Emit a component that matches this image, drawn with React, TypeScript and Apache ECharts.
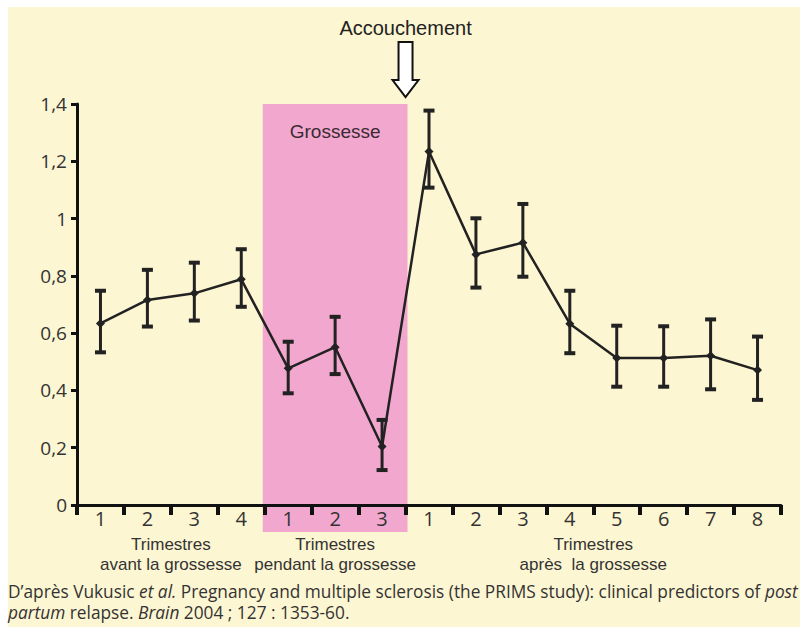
import React, { useEffect, useRef } from "react";
import * as echarts from "echarts";

const tickLabels = ["1", "2", "3", "4", "1", "2", "3", "1", "2", "3", "4", "5", "6", "7", "8"];
const means = [0.634, 0.716, 0.739, 0.788, 0.477, 0.551, 0.204, 1.234, 0.875, 0.916, 0.633, 0.513, 0.513, 0.521, 0.471];
const upper = [0.748, 0.821, 0.846, 0.893, 0.57, 0.657, 0.297, 1.377, 1.001, 1.051, 0.748, 0.626, 0.624, 0.648, 0.588];
const lower = [0.533, 0.623, 0.644, 0.692, 0.39, 0.457, 0.122, 1.108, 0.759, 0.797, 0.53, 0.413, 0.413, 0.404, 0.367];
const groupNames = ["Trimestres\navant la grossesse", "Trimestres\npendant la grossesse", "Trimestres\naprès  la grossesse"];
const groupRanges = [[0, 3], [4, 6], [7, 14]];
const pregnancyRange = [4, 6];
const yTicks = [0, 0.2, 0.4, 0.6, 0.8, 1, 1.2, 1.4];

const INK = "#222222";
const CREAM = "#FDF6D2";
const PINK = "#F2A8CE";

export default function App() {
  const ref = useRef<HTMLDivElement>(null);
  useEffect(() => {
    if (!ref.current) return;
    const chart = echarts.init(ref.current, null, { renderer: "svg" });
    const cats = tickLabels.map((_, i) => "c" + i);
    chart.setOption({
      animation: false,
      backgroundColor: "#ffffff",
      grid: { left: 77, right: 21, top: 104, bottom: 122, containLabel: false },
      xAxis: {
        type: "category",
        data: cats,
        boundaryGap: true,
        axisLine: { show: true, onZero: false, lineStyle: { color: "#111", width: 3 } },
        axisTick: { show: true, length: 10, lineStyle: { color: "#111", width: 4 } },
        axisLabel: {
          formatter: (_v: string, i: number) => tickLabels[i],
          color: "#333",
          fontFamily: "Open Sans",
          fontSize: 20,
          margin: 3,
        },
        splitLine: { show: false },
      },
      yAxis: {
        type: "value",
        min: 0,
        max: 1.4,
        interval: 0.2,
        axisLine: { show: true, lineStyle: { color: "#111", width: 3 } },
        axisTick: { show: true, length: 6, lineStyle: { color: "#111", width: 3 } },
        axisLabel: {
          formatter: (v: number) => {
            const m = yTicks.find((t) => Math.abs(t - v) < 1e-6);
            return String(m !== undefined ? m : v).replace(".", ",");
          },
          color: "#333",
          fontFamily: "Open Sans",
          fontSize: 19,
          margin: 10,
        },
        splitLine: { show: false },
      },
      series: [
        {
          type: "custom",
          z: 3,
          renderItem: (params: any, api: any) => {
            const i = api.value(0);
            const top = api.coord([i, api.value(2)]);
            const bot = api.coord([i, api.value(1)]);
            const cw = 11, ch = 4;
            return {
              type: "group",
              children: [
                { type: "line", shape: { x1: top[0], y1: top[1], x2: bot[0], y2: bot[1] }, style: { stroke: INK, lineWidth: 3 } },
                { type: "rect", shape: { x: top[0] - cw / 2, y: top[1] - ch / 2, width: cw, height: ch }, style: { fill: INK } },
                { type: "rect", shape: { x: bot[0] - cw / 2, y: bot[1] - ch / 2, width: cw, height: ch }, style: { fill: INK } },
              ],
            };
          },
          data: means.map((_, i) => [i, lower[i], upper[i]]),
          encode: { x: 0, y: [1, 2] },
        },
        {
          type: "line",
          z: 4,
          data: means,
          symbol: "diamond",
          symbolSize: 9,
          showSymbol: true,
          itemStyle: { color: INK },
          lineStyle: { color: INK, width: 2.5 },
        },
      ],
    });

    const px = (i: number) => chart.convertToPixel({ xAxisIndex: 0 }, i) as number;
    const py = (v: number) => chart.convertToPixel({ yAxisIndex: 0 }, v) as number;
    const bw = px(1) - px(0);
    const yTop = py(1.4);
    const y0 = py(0);
    const pL = px(pregnancyRange[0]) - bw / 2 - 2;
    const pR = px(pregnancyRange[1]) + bw / 2 + 2;
    const ax = pR - 2; // delivery boundary

    const graphics: any[] = [
      { type: "rect", z: -20, silent: true, shape: { x: 8, y: 7, width: 792, height: 620 }, style: { fill: CREAM } },
      { type: "rect", z: -10, silent: true, shape: { x: pL, y: yTop, width: pR - pL, height: y0 - yTop + 27 }, style: { fill: PINK } },
      {
        type: "text", z: 5, x: (pL + pR) / 2, y: yTop + 27,
        style: { text: "Grossesse", fill: "#3a2a33", font: '19px "Liberation Sans", Arial, sans-serif', textAlign: "center", textVerticalAlign: "middle" },
      },
      {
        type: "text", z: 5, x: ax, y: 28,
        style: { text: "Accouchement", fill: "#222", font: '20px "Liberation Sans", Arial, sans-serif', textAlign: "center", textVerticalAlign: "middle" },
      },
      {
        type: "polygon", z: 5,
        shape: {
          points: [
            [ax - 7, 42], [ax + 7, 42], [ax + 7, 80], [ax + 13, 80], [ax, 97], [ax - 13, 80], [ax - 7, 80],
          ],
        },
        style: { fill: "#ffffff", stroke: "#111", lineWidth: 2 },
      },
    ];
    groupRanges.forEach((r, k) => {
      const cx = (px(r[0]) + px(r[1])) / 2;
      graphics.push({
        type: "text", z: 5, x: cx, y: 534,
        style: { text: groupNames[k], fill: "#333", font: '17px "Liberation Sans", Arial, sans-serif', textAlign: "center", textVerticalAlign: "top", lineHeight: 20 },
      });
    });
    // caption
    const rich = {
      n: { fontFamily: "Open Sans", fontSize: 17.3, fill: "#333", color: "#333" },
      i: { fontFamily: "Open Sans", fontSize: 17.3, fontStyle: "italic", fill: "#333", color: "#333" },
    };
    graphics.push({
      type: "text", z: 5, x: 8, y: 591,
      style: {
        text: "{n|D’après Vukusic }{i|et al.}{n| Pregnancy and multiple sclerosis (the PRIMS study): clinical predictors of }{i|post}",
        textVerticalAlign: "middle",
        rich,
      },
    });
    graphics.push({
      type: "text", z: 5, x: 8, y: 612,
      style: {
        text: "{i|partum}{n| relapse. }{i|Brain}{n| 2004 ; 127 : 1353-60.}",
        textVerticalAlign: "middle",
        rich,
      },
    });
    chart.setOption({ graphic: { elements: graphics } });
    return () => chart.dispose();
  }, []);
  return <div ref={ref} style={{ position: "absolute", left: 0, top: 0, width: 802, height: 627 }} />;
}
